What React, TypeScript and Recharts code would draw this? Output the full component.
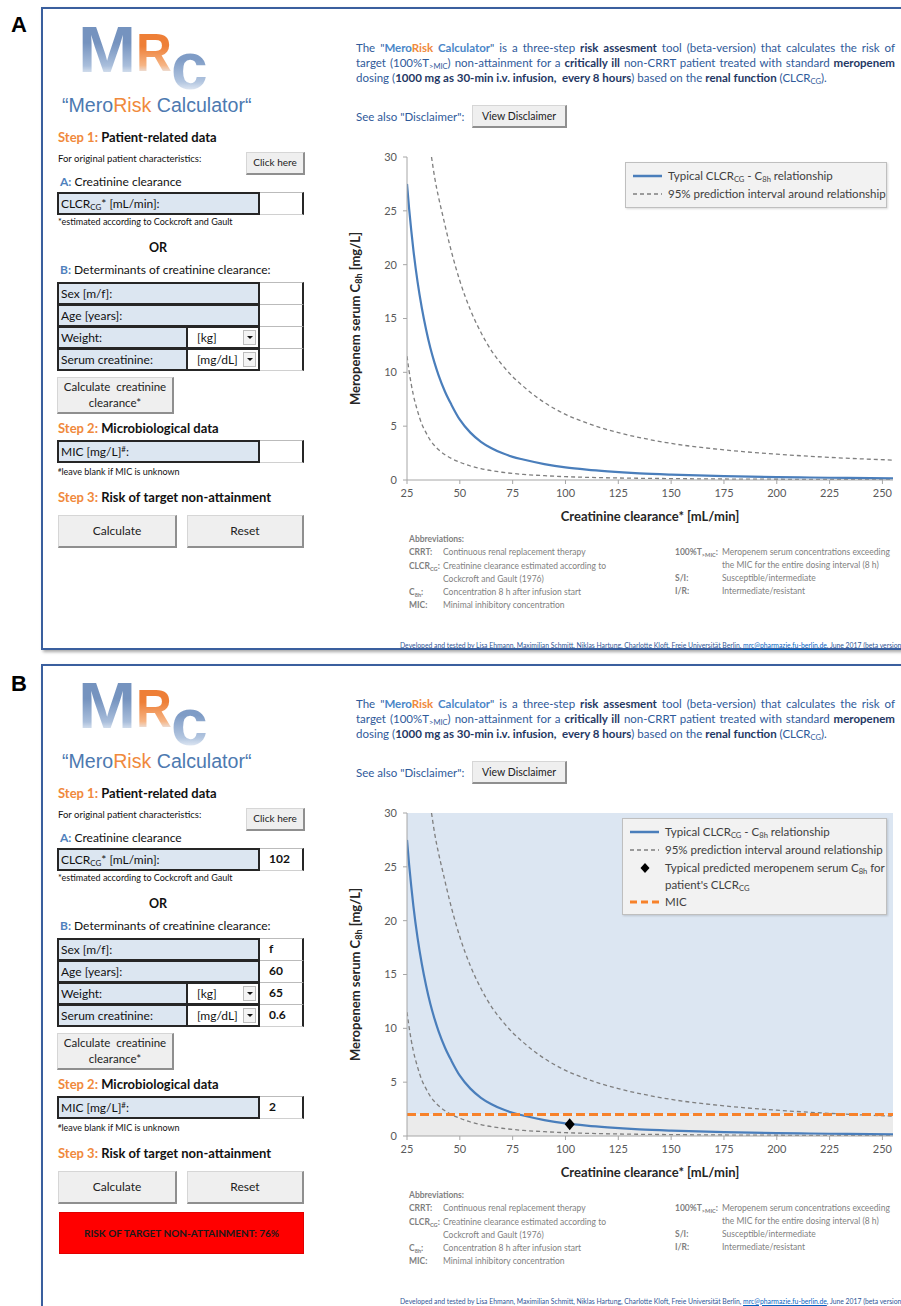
import React from 'react';
import { ComposedChart, Line, XAxis, YAxis, ReferenceArea, ReferenceLine, Scatter, Label } from 'recharts';

// ---------- data ----------
const clearanceTicks = [25, 50, 75, 100, 125, 150, 175, 200, 225, 250];
const concentrationTicks = [0, 5, 10, 15, 20, 25, 30];

const typicalClcr = [25, 26, 27, 28, 30, 32, 34, 36, 38, 40, 43, 46, 50, 55, 60, 65, 70, 75, 80, 90, 100, 110, 120, 135, 150, 175, 200, 225, 255];
const typicalC8h = [27.5, 25.2, 23.2, 21.4, 18.4, 16.0, 14.0, 12.3, 10.9, 9.7, 8.2, 7.0, 5.6, 4.4, 3.55, 2.95, 2.5, 2.15, 1.9, 1.48, 1.17, 0.96, 0.8, 0.62, 0.5, 0.36, 0.27, 0.21, 0.16];

const upperClcr = [36.6, 38, 40, 42, 45, 48, 50, 55, 60, 65, 70, 75, 80, 90, 100, 110, 125, 140, 150, 175, 200, 225, 255];
const upperC8h = [30, 28.2, 26.2, 24.5, 22.0, 19.8, 18.5, 15.8, 13.7, 12.0, 10.7, 9.6, 8.7, 7.2, 6.1, 5.3, 4.4, 3.75, 3.4, 2.8, 2.4, 2.1, 1.85];

const lowerClcr = [25, 26, 27, 28, 30, 32, 34, 36, 38, 40, 43, 46, 50, 55, 60, 70, 80, 90, 100, 125, 150, 200, 255];
const lowerC8h = [11.5, 10.1, 8.9, 7.9, 6.4, 5.2, 4.4, 3.7, 3.2, 2.8, 2.35, 2.0, 1.65, 1.3, 1.05, 0.72, 0.52, 0.4, 0.31, 0.19, 0.13, 0.07, 0.04];

const patientClcr = [102];
const patientC8h = [1.1];
const micValue = 2;

const zip = (xs: number[], ys: number[]) => xs.map((x, i) => ({ x, y: ys[i] }));
const typicalData = zip(typicalClcr, typicalC8h);
const upperData = zip(upperClcr, upperC8h);
const lowerData = zip(lowerClcr, lowerC8h);
const patientData = zip(patientClcr, patientC8h);

// ---------- styles ----------
const CAL = "Lato, 'Noto Sans', sans-serif";
const ARIAL = "'Liberation Sans', Arial, sans-serif";
const ORANGE = '#f0893c';
const BLUE = '#4f81bd';
const NAVY = '#1f3864';
const TXTBLUE = '#2f5a9a';

const Sub = ({ children }: any) => (
  <sub style={{ fontSize: '0.66em', verticalAlign: '-0.3em', lineHeight: 0 }}>{children}</sub>
);
const Sup = ({ children }: any) => (
  <sup style={{ fontSize: '0.66em', verticalAlign: '0.45em', lineHeight: 0 }}>{children}</sup>
);

const T = ({ x, y, size = 12, bold = false, color = '#111', font = CAL, children, style = {} }: any) => (
  <div
    style={{
      position: 'absolute', left: x, top: y - size * 0.65, fontSize: size, lineHeight: `${size * 1.3}px`,
      fontWeight: bold ? 700 : 400, color, whiteSpace: 'nowrap', fontFamily: font, ...style,
    }}
  >
    {children}
  </div>
);

const Btn = ({ left, top, w, h, size = 11, children }: any) => (
  <div
    style={{
      position: 'absolute', left, top, width: w, height: h, background: '#efefef',
      border: '1px solid #d6d6d6', borderRightColor: '#8f8f8f', borderBottomColor: '#8f8f8f',
      borderRightWidth: 2, borderBottomWidth: 2, boxSizing: 'border-box',
      display: 'flex', alignItems: 'center', justifyContent: 'center', textAlign: 'center',
      fontSize: size, color: '#222', lineHeight: `${size * 1.35}px`, fontFamily: CAL,
    }}
  >
    <div>{children}</div>
  </div>
);

const Row = ({ top, label, unit, value }: any) => {
  const labelW = unit ? 131 : 203;
  return (
    <div style={{ position: 'absolute', left: 57, top, width: 246, height: 23 }}>
      <div
        style={{
          position: 'absolute', left: 0, top: 0, width: labelW, height: 23, background: '#dce6f1',
          border: '2px solid #262626', boxSizing: 'border-box', fontSize: 12, lineHeight: '19px',
          paddingLeft: 2, color: '#111', fontFamily: CAL, whiteSpace: 'nowrap',
        }}
      >
        {label}
      </div>
      {unit && (
        <div
          style={{
            position: 'absolute', left: 129, top: 0, width: 74, height: 23, background: '#fff',
            border: '2px solid #262626', boxSizing: 'border-box', fontSize: 12, lineHeight: '19px',
            fontFamily: CAL, color: '#111',
          }}
        >
          <span style={{ position: 'absolute', left: 9 }}>{unit}</span>
          <div
            style={{
              position: 'absolute', right: 2, top: 2, width: 13, height: 15, background: '#f4f4f4',
              border: '1px solid #bdbdbd', boxSizing: 'border-box',
            }}
          >
            <div
              style={{
                position: 'absolute', left: 3, top: 5, width: 0, height: 0,
                borderLeft: '3px solid transparent', borderRight: '3px solid transparent', borderTop: '3px solid #111',
              }}
            />
          </div>
        </div>
      )}
      <div
        style={{
          position: 'absolute', left: 203, top: 0, width: 44, height: 23, background: '#fff',
          borderTop: '1px solid #bbb', borderBottom: '1px solid #d0d0d0', borderRight: '2px solid #262626',
          boxSizing: 'border-box', fontSize: 12, fontWeight: 700, lineHeight: '20px', paddingLeft: 9,
          fontFamily: CAL, color: '#111',
        }}
      >
        {value}
      </div>
    </div>
  );
};

const Logo = ({ off }: { off: number }) => {
  const grad = (c1: string, c2: string) => ({
    background: `linear-gradient(180deg, ${c1} 0%, ${c1} 35%, ${c2} 80%, rgba(225,233,244,0.7) 100%)`,
    WebkitBackgroundClip: 'text', backgroundClip: 'text', color: 'transparent',
  } as any);
  const letter = (ch: string, left: number, top: number, size: number, lh: number, c1: string, c2: string, sx = 1) => (
    <div
      style={{
        position: 'absolute', left, top: top + off, fontSize: size, lineHeight: `${size * lh}px`, fontWeight: 700,
        fontFamily: ARIAL, transform: `scaleX(${sx})`, transformOrigin: 'left', ...grad(c1, c2),
      }}
    >
      {ch}
    </div>
  );
  return (
    <>
      {letter('M', 78, 25, 64, 0.8, '#7593bf', '#a9bedb', 1.09)}
      {letter('R', 136, 31, 54, 0.8, '#ee7f37', '#f6b585', 0.92)}
      {letter('c', 171, 42, 66, 0.75, '#7f9cc6', '#b3c6e0')}
    </>
  );
};

const DiamondShape = (props: any) => {
  const { cx, cy } = props;
  return <path d={`M${cx},${cy - 6} L${cx + 5},${cy} L${cx},${cy + 6} L${cx - 5},${cy} Z`} fill="#000" />;
};

const YTitle = (props: any) => {
  const vb = props.viewBox || { x: 0, y: 0, width: 0, height: 0 };
  const cx = vb.x + 15;
  const cy = vb.y + vb.height / 2;
  return (
    <text x={cx} y={cy} transform={`rotate(-90, ${cx}, ${cy})`} textAnchor="middle" dominantBaseline="central"
      fontFamily={CAL} fontWeight={700} fontSize={13} fill="#262626">
      Meropenem serum C<tspan fontSize={9} dy={3}>8h</tspan><tspan dy={-3}> [mg/L]</tspan>
    </text>
  );
};

const XTitle = (props: any) => {
  const vb = props.viewBox || { x: 0, y: 0, width: 0, height: 0 };
  return (
    <text x={vb.x + vb.width / 2} y={vb.y + 36} textAnchor="middle" dominantBaseline="central"
      fontFamily={CAL} fontWeight={700} fontSize={13} fill="#262626">
      Creatinine clearance* [mL/min]
    </text>
  );
};

const LegendSample = ({ kind }: { kind: string }) => (
  <svg width={30} height={12} style={{ position: 'absolute', left: 7, top: 3 }}>
    {kind === 'typ' && <line x1={0} y1={6} x2={29} y2={6} stroke="#4a7ebb" strokeWidth={2.5} />}
    {kind === 'pi' && <line x1={0} y1={6} x2={29} y2={6} stroke="#7f7f7f" strokeWidth={1.4} strokeDasharray="4 3" />}
    {kind === 'dot' && <path d="M15,1 L19.5,6 L15,11 L10.5,6 Z" fill="#000" />}
    {kind === 'mic' && <line x1={0} y1={6} x2={29} y2={6} stroke="#f7822b" strokeWidth={3} strokeDasharray="7 4" />}
  </svg>
);

const LegendRow = ({ kind, children, h = 18 }: any) => (
  <div style={{ position: 'relative', height: h, paddingLeft: 42, lineHeight: '17px', whiteSpace: 'nowrap' }}>
    <LegendSample kind={kind} />
    {children}
  </div>
);

const LegendBox = ({ filled, off }: { filled: boolean; off: number }) => (
  <div
    style={{
      position: 'absolute', left: filled ? 622 : 625, top: 162 + off,
      width: filled ? 265 : 262, height: filled ? 97 : 46, boxSizing: 'border-box', background: '#f2f2f2',
      border: '1px solid #bfbfbf', boxShadow: '1px 1px 2px rgba(0,0,0,0.15)', fontFamily: CAL, fontSize: 11.5,
      color: '#404040', paddingTop: 4,
    }}
  >
    <LegendRow kind="typ">Typical CLCR<Sub>CG</Sub> - C<Sub>8h</Sub> relationship</LegendRow>
    <LegendRow kind="pi">95% prediction interval around relationship</LegendRow>
    {filled && (
      <LegendRow kind="dot" h={34}>
        Typical predicted meropenem serum C<Sub>8h</Sub> for<br />patient's CLCR<Sub>CG</Sub>
      </LegendRow>
    )}
    {filled && <LegendRow kind="mic">MIC</LegendRow>}
  </div>
);

const Chart = ({ filled }: { filled: boolean }) => (
  <ComposedChart width={561} height={390} margin={{ top: 12, right: 8, bottom: 5, left: 0 }}>
    {filled && <ReferenceArea x1={25} x2={255} y1={micValue} y2={30} fill="#dce6f2" fillOpacity={1} stroke="none" />}
    {filled && <ReferenceArea x1={25} x2={255} y1={0} y2={micValue} fill="#ebebeb" fillOpacity={1} stroke="none" />}
    <XAxis
      type="number" dataKey="x" domain={[25, 255]} ticks={clearanceTicks} allowDataOverflow interval={0}
      tick={{ fontSize: 11, fill: '#595959', fontFamily: CAL }} tickLine={{ stroke: '#a6a6a6' }}
      axisLine={{ stroke: '#a6a6a6' }} tickSize={4} tickMargin={5} height={50}
    >
      <Label content={XTitle} />
    </XAxis>
    <YAxis
      type="number" dataKey="y" domain={[0, 30]} ticks={concentrationTicks} allowDataOverflow interval={0}
      tick={{ fontSize: 11, fill: '#595959', fontFamily: CAL }} tickLine={{ stroke: '#a6a6a6' }}
      axisLine={{ stroke: '#a6a6a6' }} tickSize={4} tickMargin={6} width={67}
    >
      <Label content={YTitle} />
    </YAxis>
    <Line data={lowerData} dataKey="y" type="monotone" stroke="#7f7f7f" strokeWidth={1.3} strokeDasharray="4 3" dot={false} isAnimationActive={false} />
    <Line data={upperData} dataKey="y" type="monotone" stroke="#7f7f7f" strokeWidth={1.3} strokeDasharray="4 3" dot={false} isAnimationActive={false} />
    <Line data={typicalData} dataKey="y" type="monotone" stroke="#4a7ebb" strokeWidth={2.2} dot={false} isAnimationActive={false} />
    {filled && <ReferenceLine y={micValue} stroke="#f7822b" strokeWidth={3} strokeDasharray="9 4" />}
    {filled && <Scatter data={patientData} dataKey="y" shape={DiamondShape} isAnimationActive={false} />}
  </ComposedChart>
);

const Panel = ({ off, filled }: { off: number; filled: boolean }) => {
  const y = (v: number) => v + off;
  const gray = '#7f7f7f';
  return (
    <>
      <Logo off={off} />
      <T x={62} y={y(106)} size={19.6} font={ARIAL} color="#4d79b0">
        “Mero<span style={{ color: ORANGE }}>Risk</span> Calculator“
      </T>
      <T x={58} y={y(137)} size={13} bold><span style={{ color: ORANGE }}>Step 1:</span> Patient-related data</T>
      <T x={58} y={y(159)} size={9.5}>For original patient characteristics:</T>
      <Btn left={246} top={y(152)} w={59} h={23} size={10}>Click here</Btn>
      <T x={60} y={y(182)} size={12}><span style={{ color: BLUE, fontWeight: 700 }}>A:</span> Creatinine clearance</T>
      <Row top={y(192)} label={<>CLCR<Sub>CG</Sub>* [mL/min]:</>} value={filled ? '102' : ''} />
      <T x={58} y={y(222)} size={9}>*estimated according to Cockcroft and Gault</T>
      <T x={149} y={y(248)} size={12.5} bold>OR</T>
      <T x={60} y={y(270)} size={12}><span style={{ color: BLUE, fontWeight: 700 }}>B:</span> Determinants of creatinine clearance:</T>
      <Row top={y(282)} label="Sex [m/f]:" value={filled ? 'f' : ''} />
      <Row top={y(304)} label="Age [years]:" value={filled ? '60' : ''} />
      <Row top={y(326)} label="Weight:" unit="[kg]" value={filled ? '65' : ''} />
      <Row top={y(348)} label="Serum creatinine:" unit="[mg/dL]" value={filled ? '0.6' : ''} />
      <Btn left={57} top={y(377)} w={117} h={37} size={11.5}>Calculate&nbsp; creatinine<br />clearance*</Btn>
      <T x={58} y={y(428)} size={13} bold><span style={{ color: ORANGE }}>Step 2:</span> Microbiological data</T>
      <Row top={y(440)} label={<>MIC [mg/L]<Sup>#</Sup>:</>} value={filled ? '2' : ''} />
      <T x={58} y={y(472)} size={9}><Sup>#</Sup>leave blank if MIC is unknown</T>
      <T x={58} y={y(497)} size={13} bold><span style={{ color: ORANGE }}>Step 3:</span> Risk of target non-attainment</T>
      <Btn left={58} top={y(515)} w={119} h={33} size={12}>Calculate</Btn>
      <Btn left={187} top={y(515)} w={117} h={33} size={12}>Reset</Btn>
      {filled && (
        <div
          style={{
            position: 'absolute', left: 59, top: y(556), width: 245, height: 42, background: '#ff0000',
            boxSizing: 'border-box', border: '1px solid #e00000', display: 'flex', alignItems: 'center',
            justifyContent: 'center', fontFamily: CAL, fontSize: 10, fontWeight: 700, color: '#1a1a1a',
          }}
        >
          RISK OF TARGET NON-ATTAINMENT: 76%
        </div>
      )}

      {/* description */}
      <div style={{ position: 'absolute', left: 356, top: y(40), width: 539, fontFamily: CAL, fontSize: 11.5, lineHeight: '15px', color: TXTBLUE }}>
        <div style={{ textAlign: 'justify', textAlignLast: 'justify', whiteSpace: 'nowrap' } as any}>
          The "<b style={{ color: '#4a86c8' }}>Mero<span style={{ color: ORANGE }}>Risk</span> Calculator</b>" is a three-step <b style={{ color: NAVY }}>risk assesment</b> tool (beta-version) that calculates the risk of
        </div>
        <div style={{ textAlign: 'justify', textAlignLast: 'justify', whiteSpace: 'nowrap' } as any}>
          target (100%T<Sub>&gt;MIC</Sub>) non-attainment for a <b style={{ color: NAVY }}>critically ill</b> non-CRRT patient treated with standard <b style={{ color: NAVY }}>meropenem</b>
        </div>
        <div style={{ whiteSpace: 'nowrap' }}>
          dosing (<b style={{ color: NAVY }}>1000 mg as 30-min i.v. infusion,&nbsp; every 8 hours</b>) based on the <b style={{ color: NAVY }}>renal function</b> (CLCR<Sub>CG</Sub>).
        </div>
      </div>
      <T x={356} y={y(117)} size={11.5} color={TXTBLUE}>See also "Disclaimer":</T>
      <Btn left={472} top={y(105)} w={95} h={23} size={10.5}>View Disclaimer</Btn>

      {/* chart */}
      <div style={{ position: 'absolute', left: 340, top: y(145) }}>
        <Chart filled={filled} />
      </div>
      <LegendBox filled={filled} off={off} />

      {/* abbreviations */}
      <T x={409} y={y(540)} size={8.5} bold color={gray}>Abbreviations:</T>
      <T x={409} y={y(553)} size={8.5} bold color={gray}>CRRT:</T>
      <T x={443} y={y(553)} size={8.5} color={gray}>Continuous renal replacement therapy</T>
      <T x={409} y={y(567)} size={8.5} bold color={gray}>CLCR<Sub>CG</Sub>:</T>
      <T x={443} y={y(567)} size={8.5} color={gray}>Creatinine clearance estimated according to</T>
      <T x={443} y={y(580)} size={8.5} color={gray}>Cockcroft and Gault (1976)</T>
      <T x={409} y={y(593)} size={8.5} bold color={gray}>C<Sub>8h</Sub>:</T>
      <T x={443} y={y(593)} size={8.5} color={gray}>Concentration 8 h after infusion start</T>
      <T x={409} y={y(606)} size={8.5} bold color={gray}>MIC:</T>
      <T x={443} y={y(606)} size={8.5} color={gray}>Minimal inhibitory concentration</T>
      <T x={675} y={y(553)} size={8.5} bold color={gray}>100%T<Sub>&gt;MIC</Sub>:</T>
      <T x={722} y={y(553)} size={8.5} color={gray}>Meropenem serum concentrations exceeding</T>
      <T x={722} y={y(566)} size={8.5} color={gray}>the MIC for the entire dosing interval (8 h)</T>
      <T x={675} y={y(579)} size={8.5} bold color={gray}>S/I:</T>
      <T x={722} y={y(579)} size={8.5} color={gray}>Susceptible/intermediate</T>
      <T x={675} y={y(592)} size={8.5} bold color={gray}>I/R:</T>
      <T x={722} y={y(592)} size={8.5} color={gray}>Intermediate/resistant</T>

      <T x={400} y={y(645)} size={6.8} color="#2f5597">
        Developed and tested by Lisa Ehmann, Maximilian Schmitt, Niklas Hartung, Charlotte Kloft, Freie Universität Berlin,{' '}
        <span style={{ color: '#0563c1', textDecoration: 'underline' }}>mrc@pharmazie.fu-berlin.de</span>, June 2017 (beta version)
      </T>
    </>
  );
};

const Frame = ({ top, height }: { top: number; height: number }) => (
  <div
    style={{
      position: 'absolute', left: 41, top, width: 900, height, border: '2px solid #3a5f9e',
      boxSizing: 'border-box', boxShadow: '2px 2px 3px rgba(0,0,0,0.35)', background: '#fff',
    }}
  />
);

export default function App() {
  return (
    <div style={{ position: 'absolute', left: 0, top: 0, width: 901, height: 1306, overflow: 'hidden', background: '#fff', fontFamily: CAL }}>
      <Frame top={7} height={643} />
      <Frame top={664} height={700} />
      <T x={11} y={25} size={22} bold font={ARIAL} color="#000">A</T>
      <T x={11} y={684} size={22} bold font={ARIAL} color="#000">B</T>
      <Panel off={0} filled={false} />
      <Panel off={656} filled />
    </div>
  );
}
